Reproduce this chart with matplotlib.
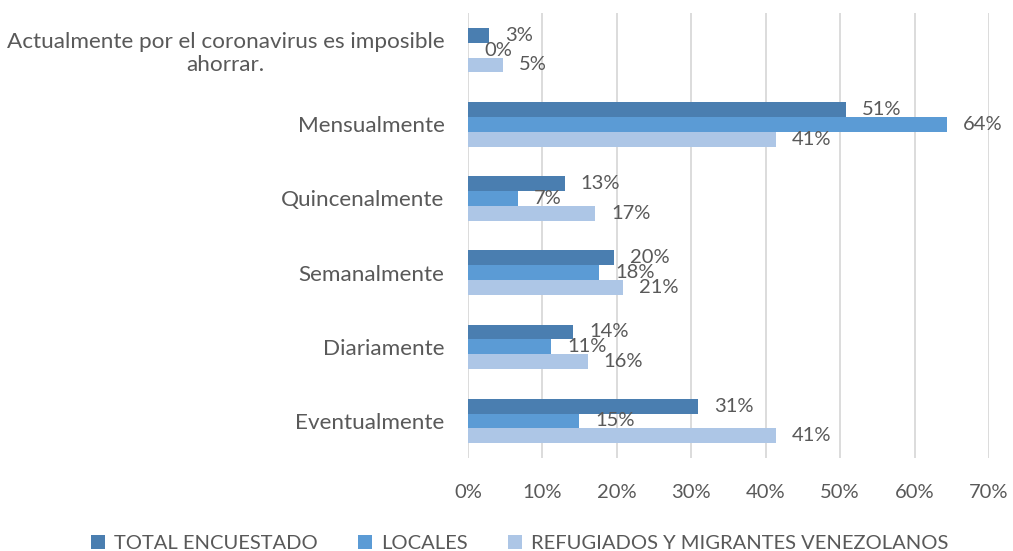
import matplotlib
matplotlib.use("Agg")
import matplotlib.pyplot as plt
import numpy as np

plt.rcParams['font.family'] = ['Lato', 'DejaVu Sans']

categories = [
    "Actualmente por el coronavirus es imposible\nahorrar.",
    "Mensualmente",
    "Quincenalmente",
    "Semanalmente",
    "Diariamente",
    "Eventualmente",
]
series_names = ["TOTAL ENCUESTADO", "LOCALES", "REFUGIADOS Y MIGRANTES VENEZOLANOS"]
total = [2.8, 50.8, 13.0, 19.6, 14.1, 30.9]
locales = [0.0, 64.4, 6.7, 17.6, 11.2, 14.9]
refugiados = [4.7, 41.4, 17.1, 20.8, 16.1, 41.4]
xticks = [0, 10, 20, 30, 40, 50, 60, 70]

colors = ["#4a7eb0", "#5b9bd5", "#adc6e6"]
text_color = "#595959"
fs = 14.5

fig = plt.figure(figsize=(10.13, 5.51), dpi=100)
ax = fig.add_axes([468 / 1013, 1 - 458 / 551, (989 - 468) / 1013, (458 - 13) / 551])

y = np.arange(len(categories))
h = 0.2
for k, (vals, name) in enumerate(zip([total, locales, refugiados], series_names)):
    pos = y + (k - 1) * h
    ax.barh(pos, vals, height=h, color=colors[k], label=name, zorder=3)
    for p, v in zip(pos, vals):
        ax.annotate(f"{v:.0f}%", xy=(v, p), xytext=(16, 0), textcoords="offset pixels",
                    ha="left", va="center", fontsize=fs, color=text_color, zorder=4)

ax.set_xlim(0, 70)
ax.set_ylim(len(categories) - 0.5, -0.5)
ax.set_xticks(xticks)
ax.set_xticklabels([f"{t}%" for t in xticks])
ax.set_yticks(y)
ax.set_yticklabels(categories, multialignment="center", fontsize=16.2)
ax.tick_params(axis="x", length=0, labelsize=fs, colors=text_color, pad=19)
ax.tick_params(axis="y", length=0, colors=text_color, pad=17)
ax.grid(axis="x", color="#d9d9d9", linewidth=1.3, zorder=0)
for s in ax.spines.values():
    s.set_visible(False)

fig.legend(loc="lower center", bbox_to_anchor=(0.513, -0.035), ncol=3, frameon=False,
           fontsize=fs, labelcolor=text_color, handlelength=0.7, handleheight=0.7,
           handletextpad=0.45, columnspacing=2.0)

fig.savefig("out.png", dpi=100)
